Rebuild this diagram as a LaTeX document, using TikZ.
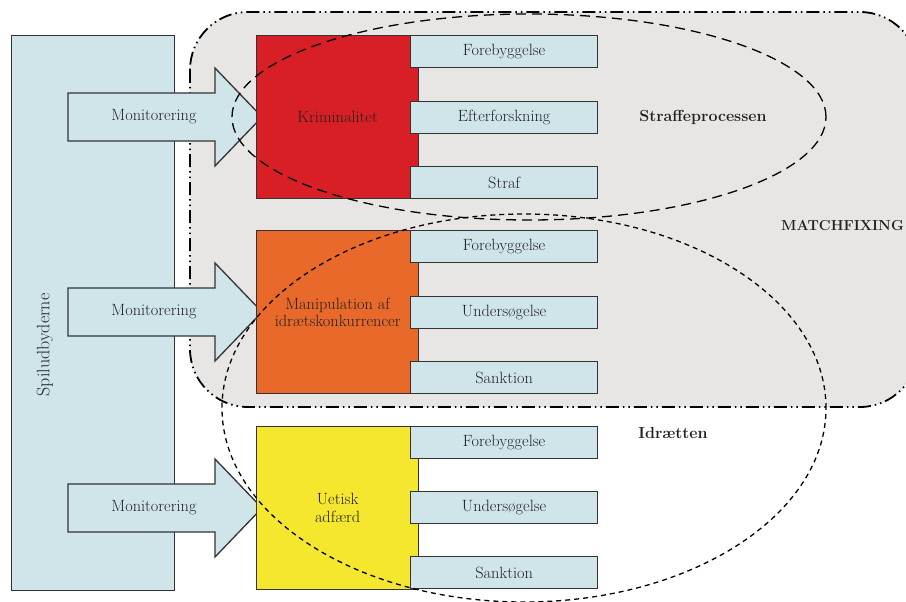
\documentclass[tikz,border=0pt]{standalone}
\usetikzlibrary{calc}
\definecolor{lblue}{HTML}{CFE5EA}
\definecolor{regiongray}{HTML}{E8E6E5}
\definecolor{kred}{HTML}{D91F26}
\definecolor{korange}{HTML}{E8692A}
\definecolor{kyellow}{HTML}{F5E62E}
\definecolor{txt}{HTML}{222222}
\tikzset{
  lbox/.style={draw=black!80, line width=1.3pt, fill=lblue},
  cbox/.style={draw=black!80, line width=1.3pt, minimum width=162pt, minimum height=163pt, anchor=north west, inner sep=0pt},
  sbox/.style={lbox, minimum width=187pt, minimum height=32pt, anchor=north west, inner sep=0pt, font=\fontsize{16.3}{18}\selectfont, text=txt},
  lab/.style={font=\fontsize{16.3}{17.5}\selectfont, text=txt, align=center},
  blab/.style={font=\fontsize{16}{18}\selectfont\bfseries, text=txt},
  arrowshape/.style={draw=black!80, line width=1.3pt, fill=lblue, line join=miter},
}
\begin{document}
\begin{tikzpicture}[x=1pt,y=-1pt]
\useasboundingbox (0,0) rectangle (906,602);
\clip (0,0) rectangle (906,602);
\fill[white] (0,0) rectangle (906,602);
% matchfixing region
\draw[fill=regiongray, line width=1.8pt, rounded corners=58pt,
  dash pattern=on 13pt off 4pt on 1.5pt off 4pt on 1.5pt off 4pt]
  (190,12) rectangle (918,407);
% Spiludbyderne
\node[lbox, anchor=north west, minimum width=163pt, minimum height=555pt, inner sep=0pt] (spil) at (11,35) {};
\node[lab, rotate=90, font=\fontsize{18}{20}\selectfont] (spiltxt) at (45,345) {Spiludbyderne};
% arrows
\foreach \yy/\nm in {117/a1, 312/a2, 508/a3}{
  \draw[arrowshape] (68,\yy-24) -- (215,\yy-24) -- (215,\yy-49) -- (262,\yy) -- (215,\yy+49) -- (215,\yy+24) -- (68,\yy+24) -- cycle;
  \node[lab] (\nm) at (154,\yy) {Monitorering};
}
% coloured boxes
\node[cbox, fill=kred] (krim) at (256,35) {};
\node[cbox, fill=korange] (manip) at (256,230) {};
\node[cbox, fill=kyellow] (uetisk) at (256,426) {};
\node[lab] at (krim.center) {Kriminalitet};
\node[lab] at (manip.center) {Manipulation af\\idrætskonkurrencer};
\node[lab] at (uetisk.center) {Uetisk\\adfærd};
% small boxes
\node[sbox] (f1) at (410,35) {Forebyggelse};
\node[sbox] (e1) at (410,101) {Efterforskning};
\node[sbox] (s1) at (410,166) {Straf};
\node[sbox] (f2) at (410,230) {Forebyggelse};
\node[sbox] (u2) at (410,296) {Undersøgelse};
\node[sbox] (s2) at (410,361) {Sanktion};
\node[sbox] (f3) at (410,426) {Forebyggelse};
\node[sbox] (u3) at (410,491) {Undersøgelse};
\node[sbox] (s3) at (410,556) {Sanktion};
% ellipses
\draw[line width=1.3pt, dash pattern=on 10pt off 6pt] (529,117) ellipse [x radius=297pt, y radius=103pt];
\draw[line width=1.3pt, dash pattern=on 5pt off 4pt] (524,408) ellipse [x radius=302pt, y radius=194pt];
% labels
\node[blab] (straf) at (703,117) {Straffeprocessen};
\node[blab, anchor=east, inner sep=1pt, font=\fontsize{14.5}{16}\selectfont\bfseries] (match) at (905,226) {MATCHFIXING};
\node[blab] (idr) at (673,433) {Idrætten};
\end{tikzpicture}
\end{document}
